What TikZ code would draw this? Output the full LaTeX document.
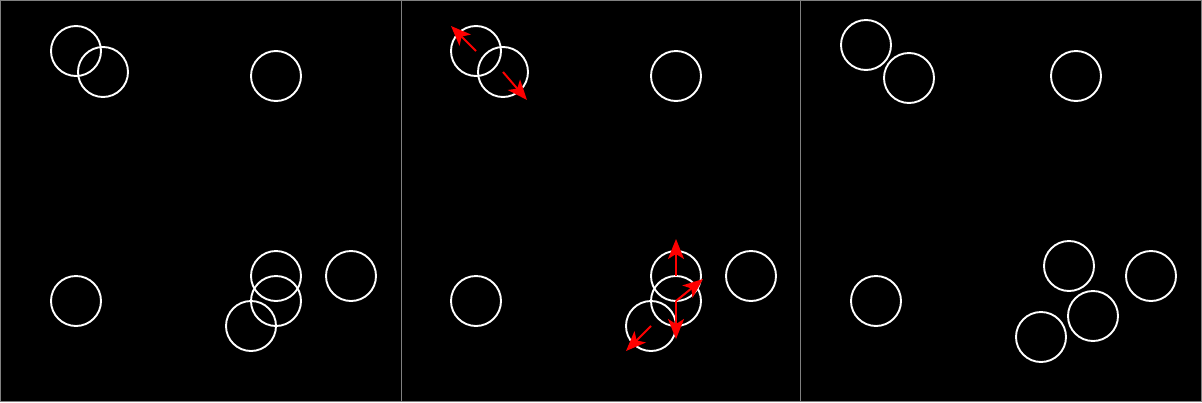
\documentclass[tikz,border=0pt]{standalone}
\usetikzlibrary{arrows.meta}
\begin{document}
\begin{tikzpicture}[x=1pt,y=-1pt,
  ball/.style={circle,draw=white,line width=1.9pt,inner sep=0pt,minimum size=50pt},
  vel/.style={draw=red,line width=2pt,-{Stealth[length=20pt,width=16pt,inset=5pt]}}]
\useasboundingbox (0,0) rectangle (1202,402);
\fill[black] (0,0) rectangle (1202,402);

% panels
\draw[gray,line width=1pt] (0.5,0.5) rectangle (401,401.5);
\draw[gray,line width=1pt] (401,0.5) rectangle (800,401.5);
\draw[gray,line width=1pt] (800,0.5) rectangle (1201.5,401.5);

% left panel
\node (a1) [ball] at (76,51) {};
\node (a2) [ball] at (103,72) {};
\node (a3) [ball] at (276,76) {};
\node (a4) [ball] at (76,301) {};
\node (a5) [ball] at (276,276) {};
\node (a6) [ball] at (276,301) {};
\node (a7) [ball] at (251,326) {};
\node (a8) [ball] at (351,276) {};

% middle panel
\node (b1) [ball] at (476,51) {};
\node (b2) [ball] at (503,72) {};
\node (b3) [ball] at (676,76) {};
\node (b4) [ball] at (476,301) {};
\node (b5) [ball] at (676,276) {};
\node (b6) [ball] at (676,301) {};
\node (b7) [ball] at (651,326) {};
\node (b8) [ball] at (751,276) {};

\coordinate (v1) at (451,26);
\coordinate (v2) at (527,100);
\coordinate (v5) at (676,239);
\coordinate (v6a) at (703,279);
\coordinate (v6b) at (676,339);
\coordinate (v7) at (626,351);
\draw[vel] (b1.center) -- (v1);
\draw[vel] (b2.center) -- (v2);
\draw[vel] (b5.center) -- (v5);
\draw[vel] (b6.center) -- (v6a);
\draw[vel] (b6.center) -- (v6b);
\draw[vel] (b7.center) -- (v7);

% right panel
\node (c1) [ball] at (866,45) {};
\node (c2) [ball] at (909,78) {};
\node (c3) [ball] at (1076,76) {};
\node (c4) [ball] at (876,301) {};
\node (c5) [ball] at (1069,266) {};
\node (c6) [ball] at (1093,316) {};
\node (c7) [ball] at (1041,337) {};
\node (c8) [ball] at (1151,276) {};

\end{tikzpicture}
\end{document}
